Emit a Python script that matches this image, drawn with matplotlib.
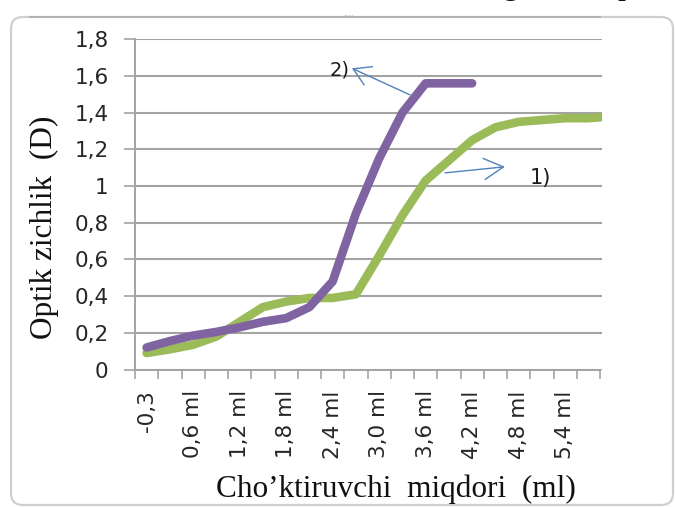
import numpy as np
import matplotlib
matplotlib.use("Agg")
import matplotlib.pyplot as plt
from matplotlib.patches import FancyBboxPatch
from matplotlib.lines import Line2D

# ---- data ----
categories = ["-0,3", "0,3 ml", "0,6 ml", "0,9 ml", "1,2 ml", "1,5 ml", "1,8 ml",
              "2,1 ml", "2,4 ml", "2,7 ml", "3,0 ml", "3,3 ml", "3,6 ml", "3,9 ml",
              "4,2 ml", "4,5 ml", "4,8 ml", "5,1 ml", "5,4 ml", "5,7 ml", "6,0 ml"]
series1 = [0.09, 0.11, 0.135, 0.18, 0.26, 0.34, 0.37, 0.39, 0.39, 0.41, 0.62,
           0.84, 1.03, 1.14, 1.25, 1.32, 1.35, 1.36, 1.37, 1.37, 1.38]
series2 = [0.12, 0.155, 0.185, 0.205, 0.23, 0.26, 0.28, 0.34, 0.48, 0.85, 1.15,
           1.40, 1.56, 1.56, 1.56]
y_ticks = [0, 0.2, 0.4, 0.6, 0.8, 1.0, 1.2, 1.4, 1.6, 1.8]
y_tick_labels = ["0", "0,2", "0,4", "0,6", "0,8", "1", "1,2", "1,4", "1,6", "1,8"]
x_title = "Choʼktiruvchi  miqdori  (ml)"
y_title = "Optik zichlik  (D)"

W, H = 675, 507
fig = plt.figure(figsize=(W / 100, H / 100), dpi=100)

def px_rect(l, t, r, b):
    return [l / W, 1 - b / H, (r - l) / W, (b - t) / H]

ax = fig.add_axes(px_rect(135, 39.3, 602, 369.5))

GREEN = "#9BBB59"
PURPLE = "#8064A2"
GRID = "#a3a3a3"

x1 = np.arange(len(series1))
x2 = np.arange(len(series2))
ax.plot(x1, series1, color=GREEN, lw=6.2, solid_capstyle="round",
        solid_joinstyle="round", zorder=3)
ax.plot(x2, series2, color=PURPLE, lw=6.2, solid_capstyle="round",
        solid_joinstyle="round", zorder=4)

n_vis = 20
ax.set_xlim(-0.5, n_vis - 0.5 + 2 / 23.35)
ax.set_ylim(0, 1.8)

# y axis
ax.set_yticks(y_ticks)
ax.set_yticklabels(y_tick_labels)
ax.yaxis.grid(True, color=GRID, lw=1.5)
ax.set_axisbelow(True)
ax.tick_params(axis="y", which="major", length=8, width=1.2, color=GRID,
               pad=11, labelsize=15.5, labelcolor="#262626")

# x axis: ticks between categories, labels at every other category centre
ax.set_xticks(np.arange(-0.5, n_vis, 1.0))
ax.set_xticklabels([])
lab_pos = np.arange(0, n_vis, 2)
ax.set_xticks(lab_pos, minor=True)
ax.set_xticklabels([categories[i] for i in lab_pos], minor=True, rotation=90)
ax.tick_params(axis="x", which="major", length=6.5, width=1.2, color=GRID)
ax.tick_params(axis="x", which="minor", length=0, pad=15,
               labelsize=15.5, labelcolor="#262626")

for s in ("top", "right"):
    ax.spines[s].set_visible(False)
for s in ("left", "bottom"):
    ax.spines[s].set_color(GRID)
    ax.spines[s].set_linewidth(1.4)
ax.spines["bottom"].set_bounds(-0.5, n_vis - 0.5)

# annotations
arrow_c = "#4F81BD"
ax.annotate("", xy=(8.83, 1.642), xytext=(11.33, 1.497),
            arrowprops=dict(arrowstyle="->,head_length=0.6,head_width=0.36",
                            color=arrow_c, lw=1.0, mutation_scale=20,
                            shrinkA=0, shrinkB=0), zorder=6)
ax.text(8.32, 1.633, "2)", fontsize=14, ha="center", va="center",
        color="#1a1a1a", zorder=7)
ax.annotate("", xy=(15.41, 1.105), xytext=(12.83, 1.072),
            arrowprops=dict(arrowstyle="->,head_length=0.7,head_width=0.38",
                            color=arrow_c, lw=1.0, mutation_scale=20,
                            shrinkA=0, shrinkB=0), zorder=6)
ax.text(16.92, 1.045, "1)", fontsize=15, ha="center", va="center",
        color="#1a1a1a", zorder=7)

# axis titles
serif = ["Liberation Serif", "DejaVu Serif"]
fig.text(44 / W, 1 - 227 / H, y_title, rotation=90, ha="center", va="center",
         fontsize=22.5, family=serif, color="#111111")
fig.text(396 / W, 1 - 489 / H, x_title, ha="center", va="center",
         fontsize=22.5, family=serif, color="#111111")

# chart frame
frame = FancyBboxPatch((0.11, 0.02), 6.62, 4.88,
                       boxstyle="round,pad=0,rounding_size=0.12",
                       transform=fig.dpi_scale_trans, facecolor="none",
                       edgecolor="#cfcfcf", lw=1.6)
fig.patches.append(frame)
fig.lines.append(Line2D([30 / W, 600 / W], [1 - 17.3 / H, 1 - 17.3 / H],
                        transform=fig.transFigure, color="#ababab", lw=1.2))
fig.text(348 / W, 1 - 13 / H, "....", ha="center", va="center",
         fontsize=6, color="#9a9a9a")
# cut-off text line above the chart (only descenders visible)
fig.text(503 / W, 1 + 6 / H, "g", ha="left", va="baseline", fontsize=23,
         family=serif, color="#111111")
fig.text(617 / W, 1 + 6 / H, "p", ha="left", va="baseline", fontsize=23,
         family=serif, color="#111111")

fig.savefig("out.png", dpi=100)
